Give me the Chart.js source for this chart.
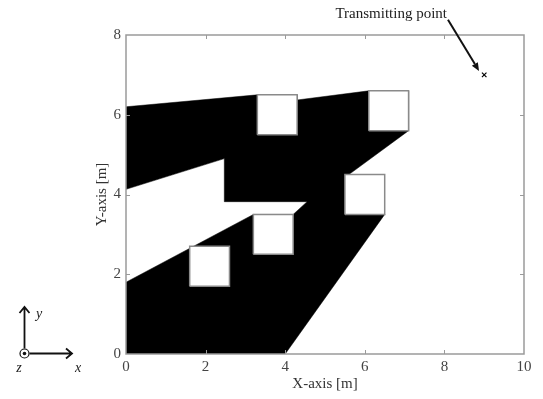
<!DOCTYPE html>
<html>
<head>
<meta charset="utf-8">
<script src="https://cdn.jsdelivr.net/npm/chart.js@4.4.0/dist/chart.umd.min.js"></script>
<style>
  html, body { margin: 0; padding: 0; background: #fff; }
  #wrap { width: 543px; height: 399px; position: relative; }
</style>
</head>
<body>
<div id="wrap"><canvas id="c" width="543" height="399"></canvas></div>
<script>
// ---- data ----
const xTicks = [0, 2, 4, 6, 8, 10];
const yTicks = [0, 2, 4, 6, 8];
// shadow (non line-of-sight) region outline, in metres
const shadowX = [0, 3.3, 4.3, 4.3, 6.1, 7.1, 7.1, 5.6, 6.5, 4.0, 0, 0, 3.2, 4.2, 4.55, 2.47, 2.47, 0];
const shadowY = [6.2, 6.5, 6.5, 6.37, 6.6, 6.6, 5.6, 4.5, 3.5, 0, 0, 1.8, 3.5, 3.5, 3.82, 3.82, 4.9, 4.13];
// square obstacles: lower-left corners and side length (m)
const obstacleX = [3.3, 6.1, 5.5, 3.2, 1.6];
const obstacleY = [5.5, 5.6, 3.5, 2.5, 1.7];
const obstacleSide = [1, 1, 1, 1, 1];
// transmitting point
const txX = [9];
const txY = [7];
const txLabel = 'Transmitting point';
const txArrowFrom = [8.09, 8.38];
const txArrowTo = [8.87, 7.1];

// ---- build datasets ----
const datasets = [];
datasets.push({
  label: 'Tx',
  data: txX.map((x, i) => ({x, y: txY[i]})),
  pointStyle: 'crossRot',
  pointRadius: 3.2,
  pointBorderWidth: 1.2,
  borderColor: '#000',
  backgroundColor: '#000',
  showLine: false,
  order: 0
});
obstacleX.forEach((x0, i) => {
  const y0 = obstacleY[i], s = obstacleSide[i];
  datasets.push({
    label: 'obstacle' + i,
    data: [{x: x0, y: y0}, {x: x0 + s, y: y0}, {x: x0 + s, y: y0 + s}, {x: x0, y: y0 + s}, {x: x0, y: y0}],
    showLine: true,
    fill: 'shape',
    backgroundColor: '#fff',
    borderColor: '#8a8a8a',
    borderWidth: 1.5,
    pointRadius: 0,
    tension: 0,
    order: 1
  });
});
datasets.push({
  label: 'shadow',
  data: shadowX.map((x, i) => ({x, y: shadowY[i]})),
  showLine: true,
  fill: 'shape',
  backgroundColor: '#000',
  borderColor: '#000',
  borderWidth: 0.5,
  pointRadius: 0,
  tension: 0,
  order: 2
});

const serif = "'Liberation Serif', 'DejaVu Serif', serif";

const framePlugin = {
  id: 'frame',
  afterDatasetsDraw(chart) {
    const {ctx, chartArea: a, scales: {x, y}} = chart;
    ctx.save();
    // box
    ctx.strokeStyle = '#9a9a9a';
    ctx.lineWidth = 1.5;
    ctx.strokeRect(a.left, a.top, a.right - a.left, a.bottom - a.top);
    // inward ticks
    ctx.lineWidth = 1;
    const tl = 4;
    ctx.beginPath();
    xTicks.slice(1, -1).forEach(v => {
      const px = Math.round(x.getPixelForValue(v)) + 0.5;
      ctx.moveTo(px, a.bottom); ctx.lineTo(px, a.bottom - tl);
      ctx.moveTo(px, a.top); ctx.lineTo(px, a.top + tl);
    });
    yTicks.slice(1, -1).forEach(v => {
      const py = Math.round(y.getPixelForValue(v)) + 0.5;
      ctx.moveTo(a.left, py); ctx.lineTo(a.left + tl, py);
      ctx.moveTo(a.right, py); ctx.lineTo(a.right - tl, py);
    });
    ctx.stroke();

    // annotation arrow
    const x1 = x.getPixelForValue(txArrowFrom[0]), y1 = y.getPixelForValue(txArrowFrom[1]);
    const x2 = x.getPixelForValue(txArrowTo[0]), y2 = y.getPixelForValue(txArrowTo[1]);
    const ang = Math.atan2(y2 - y1, x2 - x1);
    const hl = 8, hw = 3.5;
    const bx = x2 - hl * Math.cos(ang), by = y2 - hl * Math.sin(ang);
    ctx.strokeStyle = '#111';
    ctx.fillStyle = '#111';
    ctx.lineWidth = 2;
    ctx.beginPath(); ctx.moveTo(x1, y1); ctx.lineTo(bx, by); ctx.stroke();
    ctx.beginPath();
    ctx.moveTo(x2, y2);
    ctx.lineTo(bx + hw * Math.sin(ang), by - hw * Math.cos(ang));
    ctx.lineTo(bx - hw * Math.sin(ang), by + hw * Math.cos(ang));
    ctx.closePath(); ctx.fill();
    ctx.font = '15px ' + serif;
    ctx.fillStyle = '#222';
    ctx.textAlign = 'right';
    ctx.textBaseline = 'alphabetic';
    ctx.fillText(txLabel, x1 - 1, y1 - 1.5);

    // coordinate-system icon (pixel space, outside the plot)
    const ox = 24.5, oy = 353.5;
    ctx.strokeStyle = '#111'; ctx.fillStyle = '#111';
    ctx.lineWidth = 1.8;
    ctx.beginPath();
    ctx.moveTo(ox, oy - 5); ctx.lineTo(ox, 307);
    ctx.moveTo(ox - 5, 313); ctx.lineTo(ox, 307); ctx.lineTo(ox + 5, 313);
    ctx.moveTo(ox + 5, oy); ctx.lineTo(72, oy);
    ctx.moveTo(66, oy - 5); ctx.lineTo(72, oy); ctx.lineTo(66, oy + 5);
    ctx.stroke();
    ctx.lineWidth = 1.2;
    ctx.beginPath(); ctx.arc(ox, oy, 4.5, 0, Math.PI * 2); ctx.stroke();
    ctx.beginPath(); ctx.arc(ox, oy, 1.8, 0, Math.PI * 2); ctx.fill();
    ctx.font = 'italic 14px ' + serif;
    ctx.fillStyle = '#222';
    ctx.textAlign = 'center';
    ctx.textBaseline = 'middle';
    ctx.fillText('y', 39, 314);
    ctx.fillText('x', 78, 368);
    ctx.fillText('z', 19, 368);
    ctx.restore();
  }
};

new Chart(document.getElementById('c'), {
  type: 'scatter',
  data: { datasets },
  options: {
    responsive: false,
    animation: false,
    devicePixelRatio: 1,
    layout: { padding: { left: 0, top: 35, right: 19, bottom: 0 } },
    plugins: { legend: { display: false }, tooltip: { enabled: false } },
    scales: {
      x: {
        type: 'linear', min: 0, max: 10,
        afterBuildTicks: s => { s.ticks = xTicks.map(v => ({value: v})); },
        afterFit: s => { s.height = 45; },
        grid: { display: false, drawTicks: false, tickLength: 0 },
        border: { display: false },
        ticks: { padding: 4, color: '#444', font: { family: serif, size: 15 }, maxRotation: 0 },
        title: { display: true, text: 'X-axis [m]', color: '#333', font: { family: serif, size: 15 }, padding: { top: 0, bottom: 6 } }
      },
      y: {
        type: 'linear', min: 0, max: 8,
        afterBuildTicks: s => { s.ticks = yTicks.map(v => ({value: v})); },
        afterFit: s => { s.width = 126; },
        grid: { display: false, drawTicks: false, tickLength: 0 },
        border: { display: false },
        ticks: { padding: 5, color: '#444', font: { family: serif, size: 15 } },
        title: { display: true, text: 'Y-axis [m]', color: '#333', font: { family: serif, size: 15 }, padding: { top: 93, bottom: 0 } }
      }
    }
  },
  plugins: [framePlugin]
});
</script>
</body>
</html>
